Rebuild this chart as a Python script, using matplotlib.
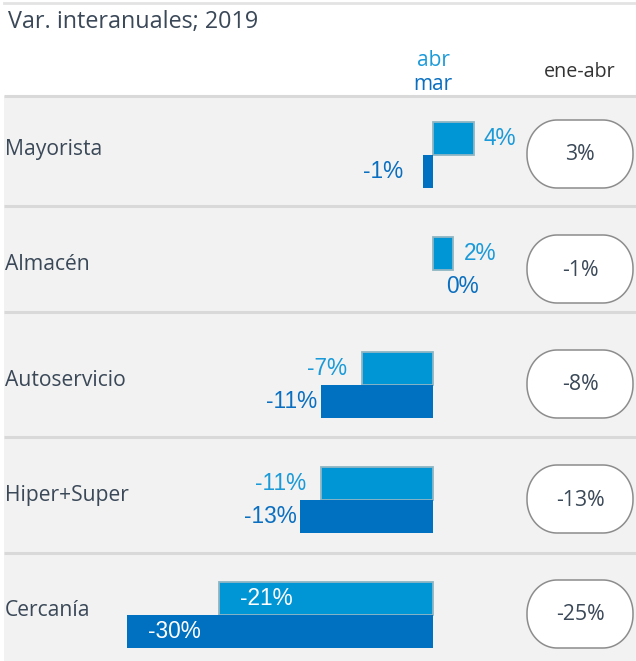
import matplotlib
matplotlib.use("Agg")
import numpy as np
import matplotlib.pyplot as plt
from matplotlib.patches import Rectangle, Polygon

# ---- data ----
categories = ["Mayorista", "Almacén", "Autoservicio", "Hiper+Super", "Cercanía"]
abr_values = [4, 2, -7, -11, -21]
mar_values = [-1, 0, -11, -13, -30]
ene_abr_values = [3, -1, -8, -13, -25]
title = "Var. interanuales; 2019"
series_labels = ["abr", "mar"]
ytd_label = "ene-abr"

# ---- style / layout ----
W, H, DPI = 636, 661, 100
ZERO_PX = 433          # pixel x of 0 %
PX_PER_PCT = 10.2
ROW0, ROW_STEP = 155, 115
BAR_H = 33
SEPARATORS = [96, 206, 312, 437, 553]
C_ABR = "#0096D6"
C_ABR_EDGE = "#8FB6C4"
C_MAR = "#0070C0"
C_ABR_TXT = "#1A9AD8"
C_MAR_TXT = "#0A6FC0"
C_TEXT = "#3A4858"
C_BG = "#F2F2F2"
C_SEP = "#D9D9D9"
SANS = ["Open Sans", "DejaVu Sans"]
ARIAL = ["Liberation Sans", "DejaVu Sans"]

fig = plt.figure(figsize=(W / DPI, H / DPI), dpi=DPI)
fig.patch.set_facecolor("white")

# pixel overlay axes (background, separators, boxes, headers)
ov = fig.add_axes([0, 0, 1, 1])
ov.set_xlim(0, W)
ov.set_ylim(H, 0)
ov.axis("off")

# data axes for bars (x in %, y in pixels)
ax = fig.add_axes([0, 0, 1, 1])
ax.set_xlim(-ZERO_PX / PX_PER_PCT, (W - ZERO_PX) / PX_PER_PCT)
ax.set_ylim(H, 0)
ax.axis("off")
ax.patch.set_alpha(0)

# background
ov.add_patch(Rectangle((4, SEPARATORS[0]), W - 4, H - SEPARATORS[0],
                       facecolor=C_BG, edgecolor="none", zorder=0))
ov.plot([4, W], [3, 3], color="#E3E3E3", lw=2, zorder=1)
for s in SEPARATORS:
    ov.plot([4, W], [s, s], color=C_SEP, lw=2.2, zorder=1, solid_capstyle="butt")

# title & headers
ov.text(8, 22, title, fontsize=16.8, color=C_TEXT, family=SANS, va="center", ha="left")
ov.text(ZERO_PX, 61, series_labels[0], fontsize=15, color=C_ABR_TXT, family=SANS,
        va="center", ha="center")
ov.text(ZERO_PX, 85, series_labels[1], fontsize=15, color=C_MAR_TXT, family=SANS,
        va="center", ha="center")
ov.text(580, 72, ytd_label, fontsize=14.2, color="#333333", family=SANS,
        va="center", ha="center")

centers = [ROW0 + i * ROW_STEP for i in range(len(categories))]
abr_y = [c - BAR_H / 2 for c in centers]
mar_y = [c + BAR_H / 2 for c in centers]

ax.barh(abr_y, abr_values, height=BAR_H, color=C_ABR, edgecolor=C_ABR_EDGE,
        linewidth=1.3, zorder=3)
ax.barh(mar_y, mar_values, height=BAR_H, color=C_MAR, edgecolor="none", zorder=3)

PT = 72 / DPI
LBL_FS = 16.3


def label(v, y, color, gap_neg, gap_pos):
    txt = f"{v}%"
    if v <= -15:
        ax.annotate(txt, (v, y), xytext=(21 * PT, 0), textcoords="offset points",
                    ha="left", va="center", color="white", fontsize=LBL_FS,
                    family=ARIAL, zorder=5)
    elif v < 0:
        ax.annotate(txt, (v, y), xytext=(-gap_neg * PT, 0), textcoords="offset points",
                    ha="right", va="center", color=color, fontsize=LBL_FS,
                    family=ARIAL, zorder=5)
    else:
        ax.annotate(txt, (v, y), xytext=(gap_pos * PT, 0), textcoords="offset points",
                    ha="left", va="center", color=color, fontsize=LBL_FS,
                    family=ARIAL, zorder=5)


for v, y in zip(abr_values, abr_y):
    label(v, y, C_ABR_TXT, 15, 10)
for v, y in zip(mar_values, mar_y):
    label(v, y, C_MAR_TXT, 20 if abs(v) < 2 else 4, 13)


def pill(x0, yc, w, h, rx, ry):
    """Rounded rectangle with elliptical corners (pixel coordinates)."""
    x1 = x0 + w
    y0, y1 = yc - h / 2, yc + h / 2
    pts = []
    corners = [
        (x1 - rx, y1 - ry, 0.0, np.pi / 2),
        (x0 + rx, y1 - ry, np.pi / 2, np.pi),
        (x0 + rx, y0 + ry, np.pi, 1.5 * np.pi),
        (x1 - rx, y0 + ry, 1.5 * np.pi, 2 * np.pi),
    ]
    for cx, cy, a0, a1 in corners:
        t = np.linspace(a0, a1, 30)
        pts.append(np.column_stack([cx + rx * np.cos(t), cy + ry * np.sin(t)]))
    return Polygon(np.vstack(pts), closed=True, facecolor="white",
                   edgecolor="#8C8C8C", lw=1.1, zorder=3)


# categories and ytd boxes
for cat, c, tot in zip(categories, centers, ene_abr_values):
    ov.text(5, c - 5, cat, fontsize=15.2, color=C_TEXT, family=SANS, va="center", ha="left")
    ov.add_patch(pill(527, c - 1, 106, 68, 30, 33))
    ov.text(580, c, f"{tot}%", fontsize=15.3, color=C_TEXT, family=SANS,
            va="center", ha="center", zorder=4)

fig.savefig("out.png", dpi=DPI)
